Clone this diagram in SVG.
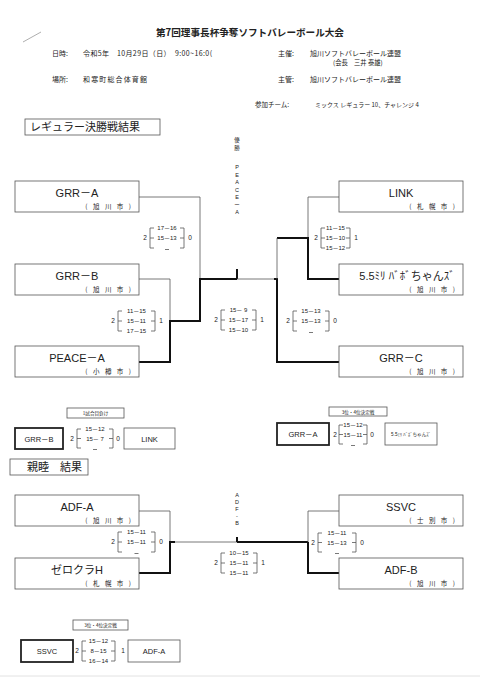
<svg xmlns="http://www.w3.org/2000/svg" width="480" height="679" viewBox="0 0 480 679">
<style>
text{font-family:"Liberation Sans","Noto Sans CJK JP",sans-serif;fill:#222}
.jp{font-family:"Noto Sans CJK JP","Liberation Sans",sans-serif}
.box{fill:#fff;stroke:#555;stroke-width:0.8}
.boxk{fill:#fff;stroke:#222;stroke-width:1.8}
.thin{fill:none;stroke:#555;stroke-width:0.8}
.thick{fill:none;stroke:#111;stroke-width:2}
.nm{font-size:11px;text-anchor:middle}
.city{font-size:6.5px;text-anchor:end;letter-spacing:2px}
.sc{font-size:6px;text-anchor:middle}
.num{font-size:6.5px;text-anchor:middle;fill:#222}
.sm{font-size:7px}
.vt{font-size:5.5px;text-anchor:middle}
.lbl{font-size:4.6px;text-anchor:middle}
</style>
<rect width="480" height="679" fill="#fff"/>
<line x1="23" y1="42" x2="41" y2="32" stroke="#999" stroke-width="0.8"/>
<line x1="0" y1="676" x2="480" y2="676" stroke="#e2e2e2" stroke-width="1"/>

<g id="header">
<text class="jp" x="250" y="36" font-size="9.6" font-weight="bold" text-anchor="middle">第7回理事長杯争奪ソフトバレーボール大会</text>
<text class="jp sm" x="52" y="56">日時:</text>
<text class="jp sm" x="83" y="56" textLength="129" lengthAdjust="spacing">令和5年　10月29日（日）　9:00~16:0(</text>
<text class="jp sm" x="278" y="56">主催:</text>
<text class="jp sm" x="310" y="56">旭川ソフトバレーボール連盟</text>
<text class="jp" x="333" y="65" font-size="6.3">(会長　三井 泰雄)</text>
<text class="jp sm" x="52" y="82">場所:</text>
<text class="jp sm" x="83" y="82" textLength="64" lengthAdjust="spacing">和寒町総合体育館</text>
<text class="jp sm" x="278" y="82">主管:</text>
<text class="jp sm" x="310" y="82">旭川ソフトバレーボール連盟</text>
<text class="jp" x="255" y="107" font-size="6.5">参加チーム:</text>
<text class="jp" x="315" y="107" font-size="6">ミックス レギュラー 10、チャレンジ 4</text>
</g>

<g id="sec-regular">
<rect class="box" x="25" y="119" width="135" height="16"/>
<text class="jp" x="30" y="131" font-size="11">レギュラー決勝戦結果</text>
</g>
<g id="sec-shinboku">
<rect class="box" x="10" y="459" width="78" height="16"/>
<text class="jp" x="27" y="471" font-size="11">親睦　結果</text>
</g>

<g id="connectors">
<path class="thin" d="M139,197H200V279"/>
<path class="thin" d="M139,279H170V321"/>
<path class="thick" d="M139,362H170V321H200V279H237"/>
<path class="thick" d="M237,279V269"/>
<path class="thin" d="M237,279H274"/>
<path class="thick" d="M274,279H277V362H339"/>
<path class="thin" d="M339,197H308V238"/>
<path class="thick" d="M339,279H308V238H277"/>
<path class="thin" d="M277,238V279"/>
<path class="thin" d="M139,511H170V542"/>
<path class="thick" d="M139,573H170V542H175"/>
<path class="thin" d="M175,542H237"/>
<path class="thick" d="M237,542V537"/>
<path class="thick" d="M237,542H308"/>
<path class="thin" d="M339,511H308V542"/>
<path class="thick" d="M339,573H308V542"/>
</g>

<g id="champ-regular">
<text class="jp vt" x="237" y="142" font-size="4.8">優</text>
<text class="jp vt" x="237" y="149.5" font-size="4.8">勝</text>
<text class="vt" x="237" y="169">P</text>
<text class="vt" x="237" y="176.5">E</text>
<text class="vt" x="237" y="184">A</text>
<text class="vt" x="237" y="191.5">C</text>
<text class="vt" x="237" y="199">E</text>
<text class="vt" x="237" y="206.5">ー</text>
<text class="vt" x="237" y="214">A</text>
</g>
<g id="champ-shinboku">
<text class="vt" x="237" y="497">A</text>
<text class="vt" x="237" y="504">D</text>
<text class="vt" x="237" y="511">F</text>
<text class="vt" x="237" y="518">-</text>
<text class="vt" x="237" y="525">B</text>
</g>

<g id="team-grr-a"><rect class="box" x="15" y="181" width="124" height="31"/><text class="nm" x="77" y="197">GRR－A</text><text class="jp city" x="133" y="209">( 旭 川 市 )</text></g>
<g id="team-grr-b"><rect class="box" x="15" y="264" width="124" height="31"/><text class="nm" x="77" y="280">GRR－B</text><text class="jp city" x="133" y="292">( 旭 川 市 )</text></g>
<g id="team-peace-a"><rect class="box" x="15" y="346" width="124" height="31"/><text class="nm" x="77" y="362">PEACE－A</text><text class="jp city" x="133" y="374">( 小 樽 市 )</text></g>
<g id="team-link"><rect class="box" x="339" y="181" width="124" height="31"/><text class="nm" x="401" y="197">LINK</text><text class="jp city" x="457" y="209">( 札 幌 市 )</text></g>
<g id="team-55"><rect class="box" x="339" y="264" width="124" height="31"/><text class="nm" x="407" y="280" font-size="10.5">5.5ﾐﾘ ﾊﾞﾎﾞちゃんｽﾞ</text><text class="jp city" x="457" y="292">( 旭 川 市 )</text></g>
<g id="team-grr-c"><rect class="box" x="339" y="346" width="124" height="31"/><text class="nm" x="401" y="362">GRR－C</text><text class="jp city" x="457" y="374">( 旭 川 市 )</text></g>

<g id="team-adf-a"><rect class="box" x="15" y="495" width="124" height="31"/><text class="nm" x="77" y="511">ADF-A</text><text class="jp city" x="133" y="523">( 旭 川 市 )</text></g>
<g id="team-zero"><rect class="box" x="15" y="558" width="124" height="31"/><text class="nm" x="77" y="574">ゼロクラH</text><text class="jp city" x="133" y="586">( 札 幌 市 )</text></g>
<g id="team-ssvc"><rect class="box" x="339" y="495" width="124" height="31"/><text class="nm" x="401" y="511">SSVC</text><text class="jp city" x="457" y="523">( 士 別 市 )</text></g>
<g id="team-adf-b"><rect class="box" x="339" y="558" width="124" height="31"/><text class="nm" x="401" y="574">ADF-B</text><text class="jp city" x="457" y="586">( 旭 川 市 )</text></g>

<g id="score-a">
<path class="thin" d="M154,228H150V248H154M150,238H154M180,228H184V248H180M184,238H180M165,249.5H169"/>
<text class="num" x="145" y="240">2</text><text class="num" x="190" y="240">0</text>
<text class="sc" x="167" y="230">17－16</text><text class="sc" x="167" y="240">15－13</text>
</g>
<g id="score-b">
<path class="thin" d="M122,311H118V331H122M118,321H122M151,311H155V331H151M155,321H151"/>
<text class="num" x="113" y="323">2</text><text class="num" x="161" y="323">1</text>
<text class="sc" x="136.5" y="313">11－15</text><text class="sc" x="136.5" y="323">15－11</text><text class="sc" x="136.5" y="333">17－15</text>
</g>
<g id="score-c">
<path class="thin" d="M225,310H221V330H225M221,320H225M252,310H256V330H252M256,320H252"/>
<text class="num" x="216" y="322">2</text><text class="num" x="262" y="322">1</text>
<text class="sc" x="238.5" y="312">15－ 9</text><text class="sc" x="238.5" y="322">15－17</text><text class="sc" x="238.5" y="332">15－10</text>
</g>
<g id="score-d">
<path class="thin" d="M325,228H321V248H325M321,238H325M346,228H350V248H346M350,238H346"/>
<text class="num" x="316" y="240">2</text><text class="num" x="356" y="240">1</text>
<text class="sc" x="335.5" y="230">11－15</text><text class="sc" x="335.5" y="240">15－10</text><text class="sc" x="335.5" y="250">15－12</text>
</g>
<g id="score-e">
<path class="thin" d="M297,311H293V331H297M293,321H297M325,311H329V331H325M329,321H325M309,332.5H313"/>
<text class="num" x="288" y="323">2</text><text class="num" x="335" y="323">0</text>
<text class="sc" x="311" y="313">15－13</text><text class="sc" x="311" y="323">15－13</text>
</g>
<g id="score-f">
<path class="thin" d="M122,532H118V552H122M118,542H122M151,532H155V552H151M155,542H151M134.5,553.5H138.5"/>
<text class="num" x="113" y="544">2</text><text class="num" x="161" y="544">0</text>
<text class="sc" x="136.5" y="534">15－11</text><text class="sc" x="136.5" y="544">15－11</text>
</g>
<g id="score-g">
<path class="thin" d="M225,553H221V573H225M221,563H225M253,553H257V573H253M257,563H253"/>
<text class="num" x="216" y="565">2</text><text class="num" x="263" y="565">1</text>
<text class="sc" x="239" y="555">10－15</text><text class="sc" x="239" y="565">15－11</text><text class="sc" x="239" y="575">15－11</text>
</g>
<g id="score-h">
<path class="thin" d="M322,533H318V552H322M318,542.5H322M352,533H356V552H352M356,542.5H352M335,553.5H339"/>
<text class="num" x="313" y="544.5">2</text><text class="num" x="362" y="544.5">0</text>
<text class="sc" x="337" y="535">15－11</text><text class="sc" x="337" y="544.5">15－13</text>
</g>

<g id="match-first-losers">
<rect class="box" x="67" y="408" width="57" height="10"/>
<text class="jp lbl" x="95.5" y="415">1試合目負け</text>
<rect class="boxk" x="15" y="428" width="48" height="21"/>
<text x="39" y="441.5" font-size="7.5" text-anchor="middle">GRR－B</text>
<path class="thin" d="M81,429H77V448H81M77,438.5H81M109,429H113V448H109M113,438.5H109M93,449.5H97"/>
<text class="num" x="72" y="440.5">2</text><text class="num" x="118" y="440.5">0</text>
<text class="sc" x="95" y="431">15－12</text><text class="sc" x="95" y="440.5">15－ 7</text>
<rect class="box" x="124" y="428" width="51" height="21"/>
<text x="149.5" y="441.5" font-size="7.5" text-anchor="middle">LINK</text>
</g>

<g id="match-third-regular">
<rect class="box" x="329" y="407" width="58" height="9"/>
<text class="jp lbl" x="358" y="413.5">3位・4位決定戦</text>
<rect class="boxk" x="277" y="423" width="52" height="22"/>
<text x="303" y="436.5" font-size="7.5" text-anchor="middle">GRR－A</text>
<path class="thin" d="M343,425H339V444H343M339,434.5H343M363,425H367V444H363M367,434.5H363M351,445.5H355"/>
<text class="num" x="335" y="436.5">2</text><text class="num" x="372" y="436.5">0</text>
<text class="sc" x="353" y="427">15－12</text><text class="sc" x="353" y="436.5">15－11</text>
<rect class="box" x="385" y="423" width="52" height="22"/>
<text x="411" y="435.5" font-size="4.6" text-anchor="middle">5.5ﾐﾘ ﾊﾞﾎﾞちゃんｽﾞ</text>
</g>

<g id="match-third-shinboku">
<rect class="box" x="73" y="620" width="55" height="10"/>
<text class="jp lbl" x="100.5" y="627">3位・4位決定戦</text>
<rect class="boxk" x="21" y="640" width="52" height="22"/>
<text x="47" y="653.5" font-size="7.5" text-anchor="middle">SSVC</text>
<path class="thin" d="M86,641H82V661H86M82,651H86M111,641H115V661H111M115,651H111"/>
<text class="num" x="77" y="653">2</text><text class="num" x="123" y="653">1</text>
<text class="sc" x="98.5" y="643">15－12</text><text class="sc" x="98.5" y="653"> 8－15</text><text class="sc" x="98.5" y="663">16－14</text>
<rect class="box" x="128" y="640" width="52" height="22"/>
<text x="154" y="653.5" font-size="7.5" text-anchor="middle">ADF-A</text>
</g>
</svg>
